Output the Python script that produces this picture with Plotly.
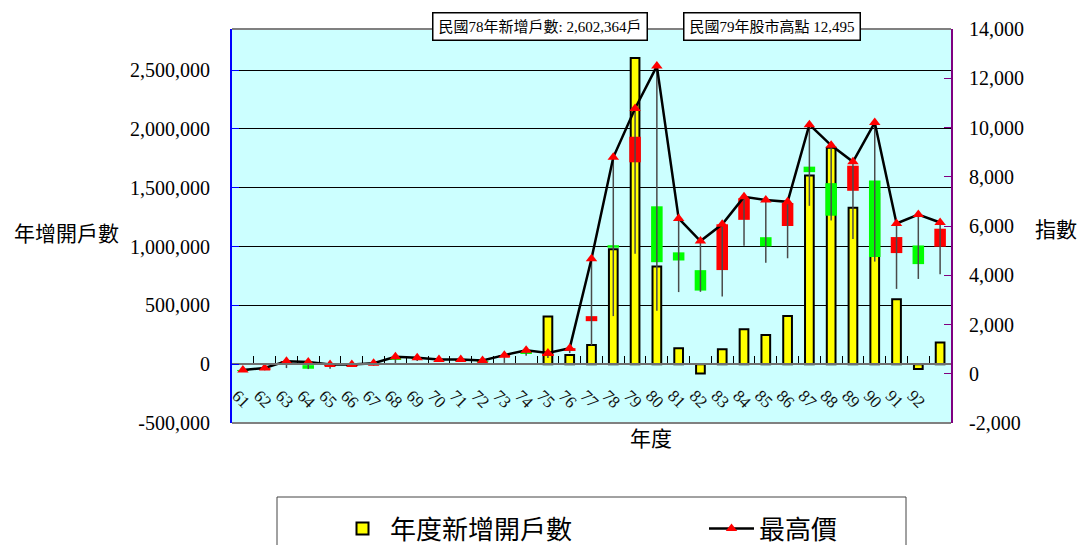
import plotly.graph_objects as go

# ---- data -------------------------------------------------------------
years = list(range(60, 93))
year_labels = [str(y) for y in years]

# yearly new brokerage accounts (left axis)
new_accounts = [None] * 14 + [
    405000, 79000, 164000, 977000, 2602364, 830000, 136000, -80000, 127000,
    297000, 249000, 410000, 1605000, 1841000, 1331000, 1450000, 552000,
    -40000, 184000,
]

# index candles (right axis)
high_idx = [150, 235, 511, 480, 380, 377, 430, 690, 650, 580, 580, 540, 755,
            958, 845, 1039, 4673, 8789, 10773, 12495, 6305, 5391, 6070, 7183,
            7051, 6982, 10116, 9277, 8608, 10202, 6104, 6462, 6142]
low_idx = [125, 140, 230, 190, 205, 300, 330, 420, 520, 500, 510, 420, 440,
           730, 636, 840, 1150, 2341, 4873, 2560, 3316, 3327, 3135, 5194,
           4503, 4690, 6820, 6219, 5474, 4555, 3446, 3850, 4044]
open_idx = [140, 180, 470, 349, 340, 350, 390, 600, 620, 560, 560, 500, 700,
            860, 760, 930, 2135, 5220, 8587, 6800, 4930, 4207, 4210, 6250,
            5545, 6000, 8410, 7740, 7430, 7847, 4900, 5210, 5160]
close_idx = [135, 225, 495, 203, 360, 365, 420, 570, 600, 570, 545, 480, 740,
             835, 810, 1039, 2339, 5119, 9624, 4530, 4600, 3377, 6070, 7124,
             5173, 6933, 8187, 6418, 8448, 4739, 5551, 4452, 5890]

left_ticks = list(range(-500000, 2500001, 500000))
left_tick_text = [f"{v:,}" for v in left_ticks]
right_ticks = list(range(-2000, 14001, 2000))
right_tick_text = [f"{v:,}" for v in right_ticks]

LEFT_RANGE = [-500000, 2850000]
RIGHT_RANGE = [-2000, 14000]

# ---- page geometry -------------------------------------------------------
W, H = 1080, 545
PLOT_L, PLOT_R, PLOT_T, PLOT_B = 232, 951, 29, 423


def xp(px):
    return (px - PLOT_L) / (PLOT_R - PLOT_L)


def yp(py):
    return (PLOT_B - py) / (PLOT_B - PLOT_T)


SERIF = "Liberation Serif, Noto Sans CJK TC, serif"
CJK = "Noto Sans CJK TC, sans-serif"

pos = list(range(len(years)))

fig = go.Figure()

# new accounts bars
fig.add_trace(go.Bar(
    x=pos, y=new_accounts, name="年度新增開戶數", width=0.4,
    marker=dict(color="#FFFF00", line=dict(color="black", width=2)),
    yaxis="y", hoverinfo="skip", legendwidth=309,
))

# candle wicks: low -> high
wick_x, wick_y = [], []
for i, lo, hi in zip(pos, low_idx, high_idx):
    wick_x += [i, i, None]
    wick_y += [lo, hi, None]
fig.add_trace(go.Scatter(
    x=wick_x, y=wick_y, mode="lines", line=dict(color="#4a4a4a", width=1.5),
    yaxis="y2", showlegend=False, hoverinfo="skip",
))

# candle bodies: open -> close (red up, green down)
body_base = [min(o, c) for o, c in zip(open_idx, close_idx)]
body_len = [abs(c - o) for o, c in zip(open_idx, close_idx)]
body_col = ["#FF0000" if c >= o else "#00FF00" for o, c in zip(open_idx, close_idx)]
fig.add_trace(go.Bar(
    x=pos, y=body_len, base=body_base, width=0.53,
    marker=dict(color=body_col, line=dict(width=0)),
    yaxis="y2", showlegend=False, hoverinfo="skip",
))

# yearly high line
fig.add_trace(go.Scatter(
    x=pos, y=high_idx, mode="lines+markers", name="最高價",
    line=dict(color="black", width=2.5),
    marker=dict(symbol="triangle-up", size=10, color="#FF0000"),
    yaxis="y2",
))

zero_pos = (0 - LEFT_RANGE[0]) / (LEFT_RANGE[1] - LEFT_RANGE[0])

peak_acc = max(range(len(years)), key=lambda i: new_accounts[i] or 0)
peak_hi = max(range(len(years)), key=lambda i: high_idx[i])

box_style = dict(xref="paper", yref="paper", xanchor="center", yanchor="middle",
                 showarrow=False, bgcolor="white", bordercolor="black",
                 borderwidth=1.5, borderpad=5,
                 font=dict(family=SERIF, size=15, color="black"))
title_style = dict(xref="paper", yref="paper", xanchor="center", yanchor="middle",
                   showarrow=False, font=dict(family=CJK, size=21, color="black"))

fig.update_layout(
    width=W, height=H,
    margin=dict(l=PLOT_L, r=W - PLOT_R, t=PLOT_T, b=H - PLOT_B, autoexpand=False),
    paper_bgcolor="white", plot_bgcolor="#CCFFFF",
    barmode="overlay",
    showlegend=True,
    xaxis=dict(
        range=[-0.5, len(years) - 0.5],
        tickmode="array", tickvals=[p - 1 for p in pos], ticktext=year_labels,
        tickangle=45, ticks="", showgrid=False, zeroline=False,
        anchor="free", position=zero_pos,
        showline=True, linecolor="#707070", linewidth=2,
        ticklabelstandoff=14, ticklabelshift=-6,
        tickfont=dict(family=SERIF, size=17, color="#111"),
        minor=dict(tickmode="array", tickvals=[p + 0.5 for p in pos[:-1]],
                   ticks="inside", ticklen=7, tickcolor="black", tickwidth=1),
    ),
    yaxis=dict(
        range=LEFT_RANGE, tickmode="array", tickvals=left_ticks,
        ticktext=left_tick_text,
        showgrid=True, gridcolor="black", gridwidth=1, zeroline=False,
        showline=True, linecolor="#0000FF", linewidth=2,
        ticks="inside", ticklen=7, tickcolor="#0000FF",
        tickfont=dict(family=SERIF, size=20, color="black"),
        ticklabelstandoff=16,
    ),
    yaxis2=dict(
        range=RIGHT_RANGE, overlaying="y", side="right",
        tickmode="array", tickvals=right_ticks, ticktext=right_tick_text,
        showgrid=False, zeroline=False,
        showline=True, linecolor="#800080", linewidth=2,
        ticks="inside", ticklen=7, tickcolor="#800080",
        tickfont=dict(family=SERIF, size=20, color="black"),
        ticklabelstandoff=12,
    ),
    legend=dict(
        orientation="h", x=xp(335), y=yp(505), xanchor="left", yanchor="top",
        font=dict(family=CJK, size=26, color="black"),
        itemwidth=45, bgcolor="rgba(0,0,0,0)", borderwidth=0,
    ),
    shapes=[
        # plot frame, top and bottom
        dict(type="line", xref="paper", yref="paper", x0=0, x1=1, y0=1, y1=1,
             line=dict(color="#808080", width=2)),
        dict(type="line", xref="paper", yref="paper", x0=0, x1=1, y0=0, y1=0,
             line=dict(color="#808080", width=2)),
        # legend frame
        dict(type="rect", xref="paper", yref="paper",
             x0=xp(277), x1=xp(906), y0=yp(560), y1=yp(497),
             line=dict(color="#444", width=1), fillcolor="rgba(0,0,0,0)"),
    ],
    annotations=[
        dict(text="年增開戶數", x=xp(66), y=yp(232), **title_style),
        dict(text="指數", x=xp(1056), y=yp(228), **title_style),
        dict(text="年度", x=xp(651), y=yp(437), **title_style),
        dict(text=f"民國{years[peak_acc]}年新增戶數: {new_accounts[peak_acc]:,}戶",
             x=xp(540), y=yp(26), **box_style),
        dict(text=f"民國{years[peak_hi]}年股市高點 {high_idx[peak_hi]:,}",
             x=xp(772), y=yp(26), **box_style),
    ],
)

fig.write_html("out.html")
